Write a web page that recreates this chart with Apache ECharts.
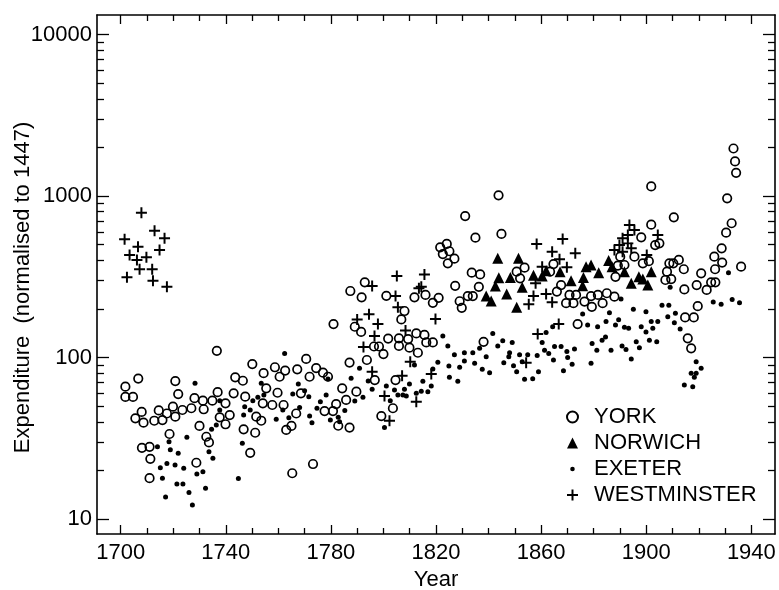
<!DOCTYPE html>
<html>
<head>
<meta charset="utf-8">
<title>Expenditure</title>
<script src="https://cdn.jsdelivr.net/npm/echarts@6/dist/echarts.min.js"></script>
<style>
  html, body { margin: 0; padding: 0; background: #fff; }
  #chart { width: 779px; height: 590px; }
</style>
</head>
<body>
<div id="chart"></div>
<script>
// values, [year, expenditure]
var york = [
  [1701.8,66],[1701.8,57],[1704.7,57],[1706.7,74],[1705.6,42],[1708,46],[1708.7,39.5],[1708.1,27.6],
  [1711,28],[1711.3,23.6],[1711,17.9],[1712.8,40.6],[1714.5,47],[1715.9,41],[1718.6,33.6],[1717.6,45],
  [1719.9,49.6],[1720.8,43],[1720.8,71.5],[1721.9,59.4],[1723.5,47.3],[1726.9,48.5],[1728.1,56],[1728.8,22.3],
  [1730,37.7],[1731.6,47.8],[1731.3,54],[1732.6,32.3],[1733.6,29.8],[1734.9,54],[1736.6,110],[1736.9,61],
  [1737.7,42.6],[1739.9,52],[1739.9,38.6],[1741.5,44],[1743,60],[1743.6,75.4],[1746.5,71.8],[1747.4,57.2],
  [1746.8,35.9],[1749.3,25.7],[1750.1,91],[1751.2,34.2],[1751.6,43],[1753.5,40.6],[1754.4,80],[1755.4,64.4],
  [1754.1,52],[1757.7,50.8],[1758.7,87],[1759.7,60.5],[1760.5,76],[1762,50.8],[1762.6,83],[1763,35.6],
  [1765,37.7],[1765.3,19.2],[1766.8,45],[1767.2,84.5],[1768.6,60],[1770.6,98],[1771.9,76],[1773.2,21.9],
  [1774.4,86],[1777,80.5],[1778.9,76],[1777.6,46.6],[1780.8,46.6],[1782,51.5],[1782.8,37.8],[1784.3,64.4],
  [1785.8,54.6],[1787.1,36.8],[1787.1,93],[1787.4,258],[1789.7,61.4],[1789.1,155],[1791.5,144],[1791.7,236],
  [1792.9,292],[1793.7,96.5],[1796.7,72.5],[1796.4,117],[1798.3,117],[1799.2,43.4],[1800,105],[1801.1,241],
  [1801.8,131],[1803.6,48.5],[1804.6,72.5],[1805.9,131.5],[1805.9,118],[1806.8,172],[1808,194],[1809.4,130],
  [1809.9,115],[1811.8,236],[1813.1,107],[1781,161],
  [1843.8,1010],[1831.1,751],[1835,552],[1844.9,582],[1821.6,481],[1824.1,505],[1822.6,437],[1825.1,455],
  [1827,409],[1824.5,383],[1833.6,335],[1836.8,327],[1827.3,278],[1836.3,274],[1816,244],[1818.8,218],
  [1821,234],[1829,223],[1829.8,203],[1832.1,240],[1834,240],[1850.7,340],[1853.7,360],[1852,309],
  [1863.4,340],[1864.7,379],[1867.6,281],[1866,256],[1870.8,244],[1873.3,244],[1869.5,217],[1872.3,217],
  [1876.5,222],[1879,240],[1879.3,206],[1873.9,161],[1812.5,141],[1815.6,138],[1816.3,124],[1818.8,124],
  [1838.1,125],
  [1933.2,1968],[1933.8,1636],[1934.2,1392],[1901.9,1146],[1930.8,968],[1910.5,738],[1932.5,678],[1930.4,593],
  [1928.7,474],[1901.9,664],[1898.1,555],[1905,509],[1903.4,497],[1890.1,421],[1895.5,421],[1891.7,374],
  [1889.2,371],[1898.7,383],[1901,395],[1888.3,316],[1912.4,402],[1908.8,383],[1910.3,383],[1907.9,340],
  [1914.3,352],[1907.3,302],[1909.5,306],[1914.5,264],[1919.2,281],[1920.9,332],[1925.9,421],[1928.9,387],
  [1926.2,352],[1924.7,292],[1926.3,292],[1923,262],[1936.1,365],[1919.6,208],[1914.8,177],[1918.1,177],
  [1915.8,131.5],[1917.1,114],[1881.6,244],[1883.4,217],[1885,250],[1887.9,238]
];

var norwich = [
  [1843.5,411],[1851.4,411],[1843.9,312],[1848.3,313],[1842.6,277],[1839.1,240],[1841,224],[1846.9,247],
  [1850.7,205],[1852.8,272],[1857.1,323],[1860.4,320],[1861.9,345],[1867.2,340],[1871.4,299],[1876.1,313],
  [1877.1,365],[1879,374],[1875.8,278],[1881.9,335],[1885.7,398],[1887,365],[1891.7,340],[1894.3,288],
  [1897.2,316],[1898.7,306],[1900.6,281],[1901.9,340]
];

var exeter = [
  [1714,28],[1715.1,20.8],[1715.9,17.9],[1717.1,13.7],[1717.6,22.1],[1718.4,30.1],[1718.9,26.8],[1720.7,21.6],
  [1721.9,25.5],[1721.4,16.5],[1723.7,16.5],[1724,20.6],[1725.2,32.1],[1726,14.6],[1727.3,12.2],[1728.3,69.2],
  [1729,19],[1731.3,19.6],[1732.3,15.5],[1733.6,26.1],[1735.1,23.8],[1734.6,35.9],[1736.4,38.2],[1737.7,47.3],
  [1737.7,54],[1744.8,17.8],[1746.3,29.4],[1747.2,49.6],[1746.8,44],[1749.3,47.3],[1750.3,54],[1752.2,56.7],
  [1753.5,69.2],[1754.5,58.6],[1759.2,41.4],[1761.7,47.3],[1762.4,106],[1764,42.4],[1765.5,59.4],[1767.6,68.5],
  [1768.1,49],[1770,62.3],[1771.6,57.2],[1771.9,43.4],[1772.8,39.5],[1774.7,48.5],[1776,53.2],[1778.2,58.6],
  [1778.9,73.6],[1779.8,41],[1782.8,42.6],[1783.3,40],[1785.3,46.9],[1787.7,74.3],[1789.1,53.8],[1790.9,85.7],
  [1792.2,56.7],[1794.2,71.5],[1795.7,63.5],[1800.4,36.8],[1801.1,66.6],[1802.6,54],[1804.2,62.9],[1805.5,58.6],
  [1807.4,58.6],[1808,63.5],[1808.7,57.8],[1809.9,68.5],[1811.8,89.9],
  [1822.6,136],[1824.5,118],[1827,104],[1830.8,107],[1834,107],[1836.6,114],[1841.6,141],[1843.5,118],
  [1845.4,127],[1849,124],[1848,107],[1851.8,104],[1854.9,104],[1858.5,103],[1860.4,124],[1862.9,106],
  [1865.1,117],[1867.6,117],[1869.8,109],[1872.7,113],[1875.8,186],[1877.7,159],[1879.4,122],[1861.9,143],
  [1864.4,155],[1820.7,93.4],[1818.8,84.9],[1824.9,88.6],[1829,86.9],[1830.8,95.1],[1834.7,92],[1839.1,101],
  [1840.4,80.5],[1837.6,84.5],[1845.8,92.9],[1847.7,101],[1849.5,89],[1850.7,81.7],[1852.8,94.2],[1853.7,73.3],
  [1856.8,73.9],[1859,81.7],[1861.3,111],[1864.7,96.6],[1868.5,82.8],[1870.1,100],[1871.8,90.8],[1879,92],
  [1825.1,75.4],[1828.3,71.2],[1815,71.2],[1818.2,66.6],[1814.4,61.8],[1816.9,61.4],[1812.5,60],
  [1890.4,230],[1886,189],[1884.7,167],[1881.5,155],[1888.3,159],[1889.5,171],[1891.7,154],[1893.3,152],
  [1895.1,199],[1899.9,192],[1898.1,155],[1901.9,167],[1904.4,167],[1906,211],[1908.6,211],[1908.2,179],
  [1911.1,188],[1910.7,164],[1912.9,150],[1899.9,144],[1902.5,152],[1901.2,128],[1904,125],[1881.2,111],
  [1883.2,128],[1884.5,134],[1886.6,111],[1890.8,118],[1892.3,112],[1894.3,98],[1896.2,125],[1897.4,115],
  [1909.1,272],[1931.3,335],[1925.5,221],[1928.5,214],[1932.7,229],[1935.5,218],[1919,94.2],[1919,79.8],
  [1920.9,85.7],[1917.1,79.8],[1918.3,75.4],[1914.5,67.6],[1917.7,66]
];

var westminster = [
  [1701.5,540],[1707.9,788],[1706.6,485],[1703.4,431],[1706.2,402],[1709.8,417],[1707.2,352],[1702.4,314],
  [1712,352],[1712.9,610],[1716.7,547],[1714.8,463],[1712.3,299],[1717.6,274],
  [1790,172],[1794.5,185],[1792.4,116],[1795.7,277],[1797.9,161],[1796.6,136],[1805.1,320],[1804.6,240],
  [1805.5,205],[1808.4,147],[1810.2,94.2],[1807.1,77.2],[1800.4,57.8],[1802.3,40.6],[1795.7,81.7],[1812.5,53.2],
  [1813.5,268],[1815.6,327],[1814.4,274],[1819.8,173],[1818.2,79.1],
  [1858.3,505],[1868.2,542],[1864.2,452],[1873,442],[1867,406],[1869.8,362],[1860.4,365],[1857.9,288],
  [1861.9,247],[1864.2,220],[1855.3,214],[1857.1,240],[1866.7,161],[1858.7,140],[1854.3,92.9],
  [1893.6,661],[1895.5,616],[1891,547],[1893,509],[1889.8,497],[1894.3,474],[1887.9,463],[1891,452],
  [1904.4,574],[1900.2,431],[1893,574]
];

var xLabelTicks = [1700, 1740, 1780, 1820, 1860, 1900, 1940];
var xMinorTicks = [1710, 1720, 1730, 1750, 1760, 1770, 1790, 1800, 1810, 1830, 1840, 1850,
                   1870, 1880, 1890, 1910, 1920, 1930];
var yLabelTicks = [10, 100, 1000, 10000];
var yMinorTicks = [20, 30, 40, 50, 60, 70, 80, 90, 200, 300, 400, 500, 600, 700, 800, 900,
                   2000, 3000, 4000, 5000, 6000, 7000, 8000, 9000];

var FONT = '"Liberation Sans", Arial, Helvetica, sans-serif';
var plusPath = 'path://M4.1,0H5.9V4.1H10V5.9H5.9V10H4.1V5.9H0V4.1H4.1Z';
var dotIcon = 'path://M0,0M12,12M3.5,6a2.5,2.5 0 1,0 5,0a2.5,2.5 0 1,0 -5,0Z';

var chart = echarts.init(document.getElementById('chart'));

function plain(v) { return String(Math.round(v)); }

function xAxisOf(pos, ticks, len, withLine, withLabel) {
  return {
    type: 'value', position: pos, min: 1691, max: 1949,
    axisLine: { show: withLine, onZero: false, lineStyle: { color: '#000', width: 1.6 } },
    axisTick: { show: true, inside: true, length: len, customValues: ticks, lineStyle: { color: '#000', width: 1.3 } },
    axisLabel: { show: withLabel, customValues: ticks, margin: 8, color: '#000', fontSize: 22, fontFamily: FONT, formatter: plain },
    splitLine: { show: false },
    name: withLabel ? 'Year' : '', nameLocation: 'middle', nameGap: 33,
    nameTextStyle: { color: '#000', fontSize: 22, fontFamily: FONT }
  };
}

function yAxisOf(pos, ticks, len, withLine, withLabel) {
  return {
    type: 'log', logBase: 10, position: pos, min: 8.075, max: 13205,
    axisLine: { show: withLine, onZero: false, lineStyle: { color: '#000', width: 1.6 } },
    axisTick: { show: true, inside: true, length: len, customValues: ticks, lineStyle: { color: '#000', width: 1.3 } },
    axisLabel: { show: withLabel, customValues: ticks, margin: 5, color: '#000', fontSize: 22, fontFamily: FONT, formatter: plain },
    splitLine: { show: false },
    minorTick: { show: false },
    name: withLabel ? 'Expenditure  (normalised to 1447)' : '', nameLocation: 'middle', nameGap: 63,
    nameMoveOverlap: false,
    nameTextStyle: { color: '#000', fontSize: 22, fontFamily: FONT, padding: [0, 26, 0, 0] }
  };
}

chart.setOption({
  animation: false,
  backgroundColor: '#fff',
  textStyle: { fontFamily: FONT },
  grid: { left: 97, right: 4, top: 15, bottom: 56, outerBoundsMode: 'none', containLabel: false },
  legend: {
    orient: 'vertical', left: 561, top: 401,
    itemWidth: 11, itemHeight: 11, itemGap: 4,
    textStyle: { color: '#000', fontSize: 22, fontFamily: FONT, lineHeight: 21, padding: [0, 0, 0, 11] },
    data: [
      { name: 'YORK', icon: 'circle' },
      { name: 'NORWICH', icon: 'triangle' },
      { name: 'EXETER', icon: dotIcon },
      { name: 'WESTMINSTER', icon: plusPath }
    ]
  },
  xAxis: [
    xAxisOf('bottom', xLabelTicks, 9, true, true),
    xAxisOf('bottom', xMinorTicks, 6, false, false),
    xAxisOf('top', xLabelTicks, 9, true, false),
    xAxisOf('top', xMinorTicks, 6, false, false)
  ],
  yAxis: [
    yAxisOf('left', yLabelTicks, 12, true, true),
    yAxisOf('left', yMinorTicks, 7, false, false),
    yAxisOf('right', yLabelTicks, 12, true, false),
    yAxisOf('right', yMinorTicks, 7, false, false)
  ],
  series: [
    {
      name: 'YORK', type: 'scatter', data: york, symbol: 'circle', symbolSize: 8.5,
      itemStyle: { color: 'rgba(255,255,255,0)', borderColor: '#000', borderWidth: 1.7, opacity: 1 }
    },
    {
      name: 'NORWICH', type: 'scatter', data: norwich, symbol: 'triangle', symbolSize: 11,
      itemStyle: { color: '#000', opacity: 1 }
    },
    {
      name: 'EXETER', type: 'scatter', data: exeter, symbol: 'circle', symbolSize: 5,
      itemStyle: { color: '#000', opacity: 1 }
    },
    {
      name: 'WESTMINSTER', type: 'scatter', data: westminster, symbol: plusPath, symbolSize: 11,
      itemStyle: { color: '#000', opacity: 1 }
    }
  ]
});
</script>
</body>
</html>
